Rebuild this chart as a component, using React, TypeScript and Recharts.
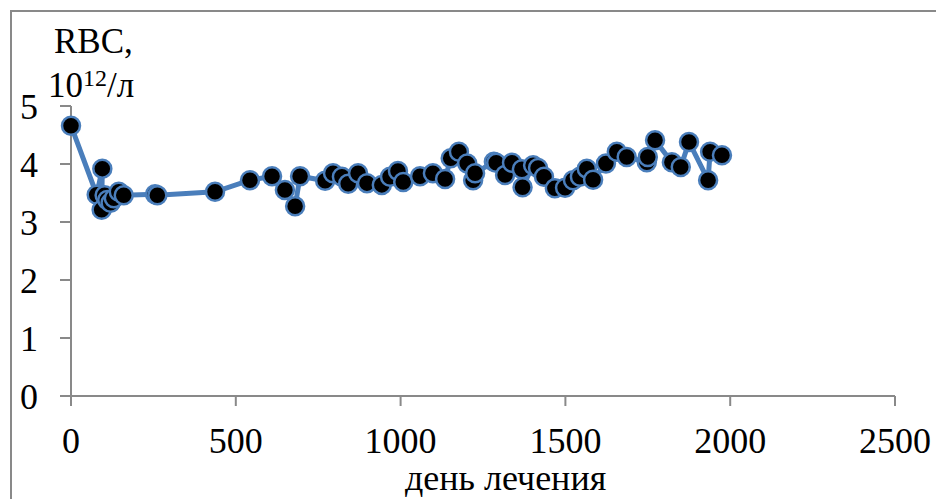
import { LineChart, Line, XAxis, YAxis } from 'recharts';

// day of treatment
const days = [
  0, 78, 95, 93, 102, 110, 120, 130, 145, 160, 255, 262, 437, 543, 610, 649, 680, 695,
  771, 795, 822, 841, 871, 898, 943, 968, 992, 1008, 1059, 1098, 1135, 1152, 1177, 1202,
  1220, 1226, 1283, 1290, 1317, 1338, 1368, 1370, 1402, 1417, 1435, 1468, 1499, 1523,
  1544, 1565, 1584, 1623, 1656, 1686, 1747, 1750, 1772, 1823, 1850, 1875, 1933, 1939, 1975,
];

// RBC, 10^12/л
const rbc = [
  4.66, 3.47, 3.92, 3.21, 3.46, 3.38, 3.33, 3.41, 3.52, 3.46, 3.48, 3.46, 3.52, 3.72, 3.79,
  3.55, 3.27, 3.79, 3.71, 3.84, 3.78, 3.66, 3.84, 3.67, 3.64, 3.78, 3.88, 3.69, 3.79, 3.84,
  3.74, 4.1, 4.21, 4.01, 3.72, 3.84, 4.04, 4.02, 3.81, 4.02, 3.91, 3.6, 3.98, 3.93, 3.78,
  3.58, 3.59, 3.72, 3.78, 3.92, 3.73, 4.01, 4.21, 4.12, 4.03, 4.12, 4.41, 4.03, 3.95, 4.38,
  3.72, 4.21, 4.15,
];

const xTicks = [0, 500, 1000, 1500, 2000, 2500];
const yTicks = [0, 1, 2, 3, 4, 5];

const data = days.map((d, i) => ({ day: d, rbc: rbc[i] }));

const font = '"Liberation Serif", "Times New Roman", serif';
const axisColor = '#898989';
const blue = '#4a7ebb';

export default function App() {
  return (
    <div
      style={{
        position: 'fixed',
        left: 0,
        top: 0,
        width: 936,
        height: 499,
        overflow: 'hidden',
        background: '#fff',
        fontFamily: font,
      }}
    >
      {/* chart area border */}
      <div
        style={{
          position: 'absolute',
          left: 10,
          top: 10,
          width: 1000,
          height: 1000,
          border: `2px solid ${axisColor}`,
        }}
      />
      <div style={{ position: 'absolute', left: 0, top: 0 }}>
        <LineChart
          width={936}
          height={499}
          data={data}
          margin={{ top: 106, right: 41, bottom: 43, left: 0 }}
        >
          <XAxis
            dataKey="day"
            type="number"
            domain={[0, 2500]}
            ticks={xTicks}
            height={60}
            stroke={axisColor}
            strokeWidth={2}
            tickSize={10}
            tickMargin={21}
            tick={{ fill: '#000', fontSize: 36, fontFamily: font }}
            interval={0}
          />
          <YAxis
            type="number"
            domain={[0, 5]}
            ticks={yTicks}
            width={71}
            stroke={axisColor}
            strokeWidth={2}
            tickSize={11}
            tickMargin={22}
            tick={{ fill: '#000', fontSize: 36, fontFamily: font }}
            interval={0}
          />
          <Line
            type="linear"
            dataKey="rbc"
            stroke={blue}
            strokeWidth={5}
            dot={{ r: 9, fill: '#000', stroke: blue, strokeWidth: 2.5 }}
            isAnimationActive={false}
          />
        </LineChart>
      </div>
      {/* y axis title */}
      <div
        style={{
          position: 'absolute',
          left: 54,
          top: 22,
          fontSize: 35,
          lineHeight: '40px',
          color: '#000',
        }}
      >
        RBC,
      </div>
      <div
        style={{
          position: 'absolute',
          left: 48,
          top: 66,
          fontSize: 35,
          lineHeight: '40px',
          color: '#000',
          whiteSpace: 'nowrap',
        }}
      >
        10<sup style={{ fontSize: 24, verticalAlign: '0.45em', lineHeight: 0 }}>12</sup>/л
      </div>
      {/* x axis title */}
      <div
        style={{
          position: 'absolute',
          left: 405,
          top: 460,
          fontSize: 36,
          lineHeight: '36px',
          color: '#000',
          whiteSpace: 'nowrap',
        }}
      >
        день лечения
      </div>
    </div>
  );
}
